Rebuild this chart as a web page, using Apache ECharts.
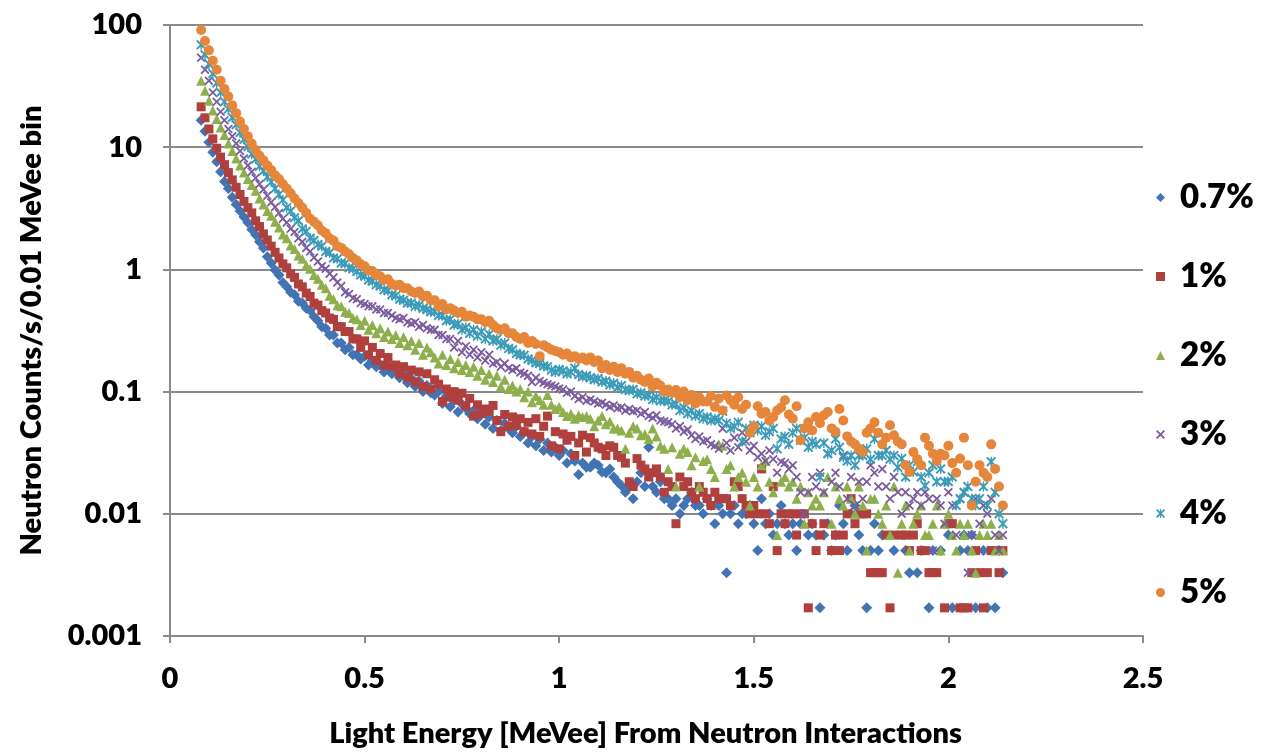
<!DOCTYPE html>
<html>
<head>
<meta charset="utf-8">
<title>Neutron light output spectra</title>
<script src="https://cdn.jsdelivr.net/npm/echarts@6/dist/echarts.min.js"></script>
<style>
  html, body { margin: 0; padding: 0; background: #ffffff; }
  #chart { width: 1261px; height: 753px; }
</style>
</head>
<body>
<div id="chart"></div>
<script>
//  Light energy bins [MeVee], 0.01 MeVee wide
const energy = [
  0.08, 0.09, 0.10, 0.11, 0.12, 0.13, 0.14, 0.15, 0.16, 0.17,
  0.18, 0.19, 0.20, 0.21, 0.22, 0.23, 0.24, 0.25, 0.26, 0.27,
  0.28, 0.29, 0.30, 0.31, 0.32, 0.33, 0.34, 0.35, 0.36, 0.37,
  0.38, 0.39, 0.40, 0.41, 0.42, 0.43, 0.44, 0.45, 0.46, 0.47,
  0.48, 0.49, 0.50, 0.51, 0.52, 0.53, 0.54, 0.55, 0.56, 0.57,
  0.58, 0.59, 0.60, 0.61, 0.62, 0.63, 0.64, 0.65, 0.66, 0.67,
  0.68, 0.69, 0.70, 0.71, 0.72, 0.73, 0.74, 0.75, 0.76, 0.77,
  0.78, 0.79, 0.80, 0.81, 0.82, 0.83, 0.84, 0.85, 0.86, 0.87,
  0.88, 0.89, 0.90, 0.91, 0.92, 0.93, 0.94, 0.95, 0.96, 0.97,
  0.98, 0.99, 1.00, 1.01, 1.02, 1.03, 1.04, 1.05, 1.06, 1.07,
  1.08, 1.09, 1.10, 1.11, 1.12, 1.13, 1.14, 1.15, 1.16, 1.17,
  1.18, 1.19, 1.20, 1.21, 1.22, 1.23, 1.24, 1.25, 1.26, 1.27,
  1.28, 1.29, 1.30, 1.31, 1.32, 1.33, 1.34, 1.35, 1.36, 1.37,
  1.38, 1.39, 1.40, 1.41, 1.42, 1.43, 1.44, 1.45, 1.46, 1.47,
  1.48, 1.49, 1.50, 1.51, 1.52, 1.53, 1.54, 1.55, 1.56, 1.57,
  1.58, 1.59, 1.60, 1.61, 1.62, 1.63, 1.64, 1.65, 1.66, 1.67,
  1.68, 1.69, 1.70, 1.71, 1.72, 1.73, 1.74, 1.75, 1.76, 1.77,
  1.78, 1.79, 1.80, 1.81, 1.82, 1.83, 1.84, 1.85, 1.86, 1.87,
  1.88, 1.89, 1.90, 1.91, 1.92, 1.93, 1.94, 1.95, 1.96, 1.97,
  1.98, 1.99, 2.00, 2.01, 2.02, 2.03, 2.04, 2.05, 2.06, 2.07,
  2.08, 2.09, 2.10, 2.11, 2.12, 2.13, 2.14
];

const seriesNames = ['0.7%', '1%', '2%', '3%', '4%', '5%'];
const yTickLabels = ['0.001', '0.01', '0.1', '1', '10', '100'];

//  Neutron counts/s per bin, null = no counts in that bin
const rate07 = [
  16.6, 13.5, 11, 9.1, 7.6, 6.3, 5.25, 4.6, 3.9, 3.4,
  3.0, 2.68, 2.42, 2.12, 1.92, 1.68, 1.5, 1.27, 1.13, 0.99,
  0.9, 0.78, 0.72, 0.65, 0.62, 0.55, 0.53, 0.48, 0.46, 0.41,
  0.38, 0.34, 0.33, 0.29, 0.29, 0.25, 0.25, 0.22, 0.23, 0.2,
  0.2, 0.185, 0.195, 0.165, 0.18, 0.16, 0.165, 0.145, 0.158, 0.14,
  0.145, 0.13, 0.14, 0.118, 0.128, 0.11, 0.122, 0.1, 0.112, 0.098,
  0.094, 0.1, 0.08, 0.092, 0.075, 0.085, 0.068, 0.079, 0.073, 0.066,
  0.07, 0.06, 0.066, 0.054, 0.062, 0.05, 0.058, 0.048, 0.055, 0.05,
  0.046, 0.052, 0.043, 0.047, 0.038, 0.043, 0.036, 0.041, 0.033, 0.038,
  0.032, 0.035, 0.03, 0.033, 0.026, 0.031, 0.027, 0.021, 0.026, 0.024,
  0.024, 0.026, 0.025, 0.022, 0.0217, 0.0233, 0.02, 0.0183, 0.017, 0.015,
  0.0167, 0.0133, 0.0183, 0.0217, 0.0167, 0.035, 0.0167, 0.015, 0.0183, 0.0133,
  0.0133, 0.0117, 0.0133, 0.01, 0.0117, 0.0133, 0.015, 0.0117, 0.0117, 0.01,
  0.0133, 0.0117, 0.0083, 0.0117, 0.01, 0.0033, 0.01, 0.0117, 0.0083, 0.01,
  0.01, 0.0117, 0.0083, 0.005, 0.0133, 0.0083, 0.01, 0.0067, 0.0083, 0.0117,
  0.0083, 0.0067, 0.0083, 0.005, 0.0083, null, 0.0067, 0.0083, 0.0067, 0.0017,
  0.0067, 0.0083, 0.005, 0.0067, 0.0117, 0.0083, 0.005, 0.01, 0.0117, 0.0067,
  0.005, 0.0017, 0.005, 0.0083, 0.005, 0.0067, null, null, 0.005, null,
  null, 0.005, 0.0033, null, 0.0033, 0.005, null, 0.0017, 0.005, null,
  0.005, null, 0.0067, 0.0017, null, 0.005, 0.0067, 0.005, 0.0067, 0.0017,
  null, 0.005, 0.0017, null, 0.0017, 0.005, 0.0033
];

const rate1 = [
  21.4, 17.4, 14.1, 11.7, 9.8, 8.3, 7.2, 6.2, 5.4, 4.7,
  4.1, 3.6, 3.2, 2.9, 2.5, 2.24, 1.95, 1.74, 1.55, 1.38,
  1.24, 1.11, 1.03, 0.92, 0.86, 0.76, 0.72, 0.64, 0.6, 0.53,
  0.51, 0.46, 0.44, 0.4, 0.39, 0.34, 0.34, 0.31, 0.31, 0.27,
  0.27, 0.23, 0.26, 0.2, 0.23, 0.18, 0.205, 0.165, 0.19, 0.16,
  0.165, 0.14, 0.16, 0.13, 0.15, 0.12, 0.145, 0.11, 0.14, 0.105,
  0.125, 0.115, 0.083, 0.105, 0.09, 0.1, 0.085, 0.097, 0.076, 0.088,
  0.063, 0.078, 0.066, 0.072, 0.069, 0.077, 0.058, 0.047, 0.065, 0.052,
  0.062, 0.053, 0.06, 0.047, 0.056, 0.045, 0.06, 0.043, 0.052, 0.063,
  0.036, 0.047, 0.034, 0.045, 0.04, 0.043, 0.03, 0.038, 0.044, 0.032,
  0.042, 0.038, 0.035, 0.034, 0.03, 0.036, 0.035, 0.03, 0.029, 0.026,
  0.0183, 0.0167, 0.0283, 0.025, 0.0233, 0.02, 0.0217, 0.0233, 0.02, 0.015,
  0.0183, 0.0167, 0.0083, 0.02, 0.0167, 0.0183, 0.015, 0.0133, 0.0167, 0.015,
  0.0133, 0.0117, 0.015, 0.0133, 0.0133, 0.0133, 0.0117, 0.0183, 0.0167, 0.0133,
  0.0117, 0.01, 0.0117, 0.01, 0.0233, 0.01, 0.0083, 0.0167, 0.005, 0.01,
  0.0083, 0.01, 0.01, 0.0067, 0.01, 0.01, 0.0017, 0.0083, 0.005, 0.0067,
  0.0083, null, 0.005, 0.0067, 0.005, 0.0067, 0.01, 0.0133, 0.0083, 0.01,
  0.01, 0.01, 0.0033, 0.0033, 0.0033, 0.0033, 0.0067, 0.0017, 0.0067, null,
  0.0067, 0.0067, 0.005, 0.0067, 0.0083, 0.005, 0.005, 0.0033, 0.0033, 0.0033,
  null, 0.0017, 0.0083, 0.0083, null, 0.0017, 0.0017, 0.0017, 0.0033, 0.005,
  0.0033, 0.0017, 0.0033, 0.005, 0.005, 0.0033, 0.005
];

const rate2 = [
  35, 29, 24, 20, 17, 14.5, 12.6, 10.7, 9.3, 8.1,
  7.1, 6.2, 5.5, 4.9, 4.4, 3.8, 3.4, 3.0, 2.75, 2.45,
  2.2, 1.93, 1.8, 1.57, 1.47, 1.3, 1.22, 1.08, 1.01, 0.9,
  0.84, 0.75, 0.7, 0.61, 0.57, 0.51, 0.5, 0.45, 0.44, 0.4,
  0.39, 0.35, 0.38, 0.32, 0.35, 0.3, 0.33, 0.28, 0.31, 0.27,
  0.29, 0.25, 0.28, 0.24, 0.26, 0.22, 0.25, 0.2, 0.23, 0.21,
  0.19, 0.17, 0.2, 0.165, 0.185, 0.155, 0.175, 0.15, 0.165, 0.145,
  0.16, 0.135, 0.15, 0.125, 0.14, 0.12, 0.135, 0.11, 0.125, 0.105,
  0.112, 0.1, 0.105, 0.09, 0.1, 0.082, 0.092, 0.085, 0.078, 0.094,
  0.078, 0.072, 0.075, 0.068, 0.063, 0.066, 0.06, 0.064, 0.062, 0.063,
  0.06, 0.052, 0.058, 0.063, 0.054, 0.057, 0.05, 0.05, 0.048, 0.034,
  0.046, 0.052, 0.05, 0.044, 0.045, 0.041, 0.05, 0.043, 0.036, 0.034,
  0.0233, 0.035, 0.0167, 0.031, 0.034, 0.032, 0.025, 0.029, 0.0167, 0.027,
  0.028, 0.0233, 0.02, 0.037, 0.036, 0.0233, 0.025, 0.0167, 0.02, 0.0217,
  0.0183, 0.0117, 0.02, 0.0167, 0.025, 0.027, 0.0183, 0.015, 0.0067, 0.0183,
  0.02, 0.0167, 0.0183, 0.0133, 0.0167, 0.0083, 0.015, 0.0117, 0.0133, 0.0117,
  0.015, 0.02, 0.0083, 0.0167, 0.0133, 0.0117, 0.0167, 0.0133, 0.01, 0.0167,
  0.0117, 0.005, 0.0133, 0.0133, 0.01, 0.0083, 0.0117, 0.0067, 0.0167, 0.0033,
  0.0083, 0.0117, 0.005, 0.0083, 0.01, 0.0117, 0.0067, 0.0067, 0.0083, 0.0117,
  0.005, 0.0083, 0.01, 0.0067, 0.005, 0.0083, 0.0067, 0.0083, 0.005, 0.0033,
  0.0067, 0.0083, 0.0067, 0.0083, 0.005, 0.0067, 0.005
];

const rate3 = [
  54, 43, 35, 28, 23.5, 19.5, 16.6, 14.1, 12.3, 10.7,
  9.3, 8.1, 7.1, 6.3, 5.6, 5.0, 4.5, 4.0, 3.55, 3.24,
  2.9, 2.6, 2.42, 2.15, 2.02, 1.8, 1.68, 1.5, 1.4, 1.25,
  1.16, 1.06, 1.01, 0.92, 0.86, 0.78, 0.73, 0.65, 0.63, 0.58,
  0.57, 0.53, 0.52, 0.5, 0.5, 0.47, 0.47, 0.44, 0.44, 0.42,
  0.4, 0.39, 0.4, 0.37, 0.36, 0.37, 0.34, 0.35, 0.33, 0.32,
  0.32, 0.29, 0.29, 0.27, 0.27, 0.23, 0.26, 0.21, 0.235, 0.2,
  0.22, 0.19, 0.21, 0.18, 0.2, 0.17, 0.175, 0.16, 0.17, 0.155,
  0.15, 0.155, 0.143, 0.14, 0.135, 0.12, 0.13, 0.122, 0.118, 0.115,
  0.112, 0.11, 0.106, 0.104, 0.098, 0.1, 0.092, 0.087, 0.09, 0.084,
  0.086, 0.083, 0.08, 0.081, 0.078, 0.075, 0.077, 0.073, 0.074, 0.07,
  0.072, 0.069, 0.07, 0.066, 0.068, 0.063, 0.061, 0.064, 0.058, 0.057,
  0.056, 0.054, 0.05, 0.052, 0.047, 0.049, 0.044, 0.041, 0.043, 0.039,
  0.04, 0.037, 0.036, 0.034, 0.05, 0.038, 0.033, 0.042, 0.035, 0.046,
  0.039, 0.033, 0.036, 0.029, 0.031, 0.027, 0.033, 0.028, 0.0217, 0.0267,
  0.026, 0.0233, 0.025, 0.02, 0.015, 0.01, 0.015, 0.02, 0.0167, 0.0217,
  0.015, 0.031, 0.0183, 0.0217, 0.0167, 0.03, 0.0133, 0.02, 0.0117, 0.0183,
  0.0133, 0.0183, 0.025, 0.0217, 0.0167, 0.0233, 0.0167, 0.0133, 0.02, 0.015,
  0.01, 0.015, 0.0117, 0.0133, 0.015, 0.0117, 0.015, 0.0133, 0.005, 0.0133,
  0.0117, 0.0083, 0.015, 0.0117, 0.0067, 0.0133, 0.015, 0.0033, 0.0067, 0.0133,
  0.0083, 0.0117, 0.01, 0.0133, 0.0067, 0.005, 0.0067
];

const rate4 = [
  69, 57, 48, 40, 33.5, 28, 23.5, 20.5, 17.5, 15.3,
  13.2, 11.6, 10.1, 8.8, 8.0, 7.0, 6.4, 5.7, 5.2, 4.6,
  4.1, 3.7, 3.2, 3.0, 2.65, 2.5, 2.15, 2.05, 1.8, 1.72,
  1.6, 1.55, 1.4, 1.37, 1.24, 1.22, 1.13, 1.12, 1.03, 1.01,
  0.96, 0.9, 0.88, 0.82, 0.8, 0.75, 0.73, 0.68, 0.67, 0.62,
  0.61, 0.57, 0.56, 0.53, 0.53, 0.5, 0.51, 0.48, 0.47, 0.45,
  0.45, 0.42, 0.42, 0.38, 0.39, 0.35, 0.36, 0.32, 0.335, 0.3,
  0.32, 0.285, 0.31, 0.27, 0.295, 0.26, 0.27, 0.24, 0.25, 0.225,
  0.22, 0.205, 0.2, 0.198, 0.185, 0.18, 0.172, 0.17, 0.162, 0.16,
  0.15, 0.145, 0.152, 0.148, 0.14, 0.145, 0.155, 0.138, 0.132, 0.135,
  0.13, 0.125, 0.128, 0.12, 0.122, 0.114, 0.117, 0.108, 0.112, 0.104,
  0.102, 0.104, 0.096, 0.098, 0.092, 0.094, 0.086, 0.09, 0.084, 0.085,
  0.083, 0.078, 0.079, 0.07, 0.074, 0.066, 0.07, 0.063, 0.066, 0.06,
  0.062, 0.058, 0.06, 0.058, 0.069, 0.055, 0.05, 0.052, 0.056, 0.039,
  0.05, 0.046, 0.053, 0.048, 0.052, 0.044, 0.047, 0.05, 0.034, 0.041,
  0.043, 0.037, 0.046, 0.05, 0.04, 0.042, 0.035, 0.039, 0.037, 0.02,
  0.038, 0.031, 0.033, 0.041, 0.035, 0.029, 0.027, 0.03, 0.025, 0.03,
  0.03, 0.034, 0.028, 0.041, 0.03, 0.03, 0.033, 0.028, 0.03, 0.024,
  0.0283, 0.02, 0.025, 0.022, 0.0267, 0.02, 0.017, 0.0217, 0.025, 0.0183,
  0.0233, 0.0183, 0.0183, 0.02, 0.0117, 0.0133, 0.015, 0.0167, 0.0133, 0.0117,
  0.0133, 0.0167, 0.0117, 0.0267, 0.015, 0.01, 0.0083
];

const rate5 = [
  91, 74, 62, 51, 43, 35, 30, 26, 22, 19,
  16.2, 14.1, 12.3, 10.7, 9.5, 8.5, 7.8, 7.1, 6.5, 5.9,
  5.5, 5.0, 4.6, 4.2, 3.8, 3.5, 3.2, 2.9, 2.6, 2.45,
  2.3, 2.08, 1.98, 1.8, 1.72, 1.55, 1.5, 1.4, 1.33, 1.24,
  1.18, 1.1, 1.06, 0.98, 0.97, 0.9, 0.88, 0.82, 0.83, 0.76,
  0.74, 0.75, 0.7, 0.7, 0.66, 0.64, 0.66, 0.6, 0.61, 0.56,
  0.56, 0.5, 0.52, 0.47, 0.48, 0.46, 0.44, 0.45, 0.41, 0.42,
  0.41, 0.39, 0.39, 0.37, 0.38, 0.35, 0.33, 0.32, 0.33, 0.3,
  0.3, 0.28, 0.27, 0.28, 0.25, 0.26, 0.245, 0.195, 0.24, 0.23,
  0.22, 0.215, 0.21, 0.2, 0.205, 0.19, 0.195, 0.185, 0.19, 0.18,
  0.19, 0.175, 0.18, 0.155, 0.165, 0.15, 0.16, 0.145, 0.155, 0.14,
  0.145, 0.13, 0.135, 0.125, 0.12, 0.128, 0.11, 0.118, 0.112, 0.1,
  0.104, 0.098, 0.103, 0.09, 0.1, 0.085, 0.094, 0.08, 0.09, 0.083,
  0.083, 0.092, 0.075, 0.088, 0.07, 0.093, 0.085, 0.078, 0.09, 0.072,
  0.078, 0.046, 0.052, 0.076, 0.066, 0.068, 0.058, 0.062, 0.07, 0.074,
  0.085, 0.065, 0.06, 0.076, 0.04, 0.05, 0.056, 0.048, 0.062, 0.055,
  0.064, 0.068, 0.05, 0.047, 0.072, 0.058, 0.043, 0.039, 0.037, 0.034,
  0.032, 0.046, 0.05, 0.056, 0.046, 0.037, 0.042, 0.053, 0.044, 0.039,
  0.037, 0.025, 0.022, 0.032, 0.028, 0.025, 0.042, 0.036, 0.031, 0.027,
  0.031, 0.03, 0.036, 0.026, 0.0217, 0.0283, 0.042, 0.025, 0.0117, 0.0183,
  0.025, 0.0217, 0.02, 0.037, 0.0233, 0.0167, 0.0117
];

const allRates = [rate07, rate1, rate2, rate3, rate4, rate5];

const colors = ['#4274B3', '#B0403D', '#8EAF4C', '#7A5B9E', '#3C9BB8', '#E6863A'];

//  Excel-like marker shapes: diamond, square, triangle, x, asterisk, circle
const xMark = 'path://M0,1.4L1.4,0L5,3.6L8.6,0L10,1.4L6.4,5L10,8.6L8.6,10L5,6.4L1.4,10L0,8.6L3.6,5Z';
const starMark = 'path://M0,1.4L1.4,0L5,3.6L8.6,0L10,1.4L6.4,5L10,8.6L8.6,10L5,6.4L1.4,10L0,8.6L3.6,5Z' +
  'M4.3,0L5.7,0L5.7,10L4.3,10Z';
const symbols = ['diamond', 'rect', 'triangle', xMark, starMark, 'circle'];
const symbolSizes = [11, 9, 10, 9, 10, 10];

const font = 'Lato, "Open Sans", sans-serif';
const gray = '#8a8a8a';

function toPoints(values) {
  let points = [];
  values.forEach(function (v, i) {
    if (v !== null) points.push([energy[i], v]);
  });
  return points;
}

let chart = echarts.init(document.getElementById('chart'));

let option = {
  animation: false,
  backgroundColor: '#ffffff',
  grid: { left: 170, right: 118, top: 25, bottom: 115, containLabel: false },
  legend: {
    data: seriesNames,
    orient: 'vertical',
    left: 1151,
    top: 176,
    itemWidth: 9,
    itemHeight: 9,
    itemGap: 46,
    textStyle: {
      fontFamily: font, fontWeight: 800, fontSize: 33, color: '#000',
      lineHeight: 32, padding: [0, 0, 0, 10]
    }
  },
  xAxis: {
    type: 'value',
    min: 0,
    max: 2.5,
    interval: 0.5,
    name: 'Light Energy [MeVee] From Neutron Interactions',
    nameLocation: 'middle',
    nameGap: 83,
    nameTextStyle: { fontFamily: font, fontWeight: 800, fontSize: 29, color: '#000', padding: [0, 22, 0, 0] },
    axisLine: { show: true, lineStyle: { color: gray, width: 2 } },
    axisTick: { show: true, inside: false, length: 7, lineStyle: { color: gray, width: 2 } },
    splitLine: { show: false },
    axisLabel: {
      margin: 28,
      fontFamily: font, fontWeight: 800, fontSize: 29, color: '#000',
      formatter: function (v) { return String(v); }
    }
  },
  yAxis: {
    type: 'log',
    logBase: 10,
    min: 0.001,
    max: 100,
    name: 'Neutron Counts/s/0.01 MeVee bin',
    nameLocation: 'middle',
    nameGap: 124,
    nameTextStyle: { fontFamily: font, fontWeight: 800, fontSize: 29, color: '#000' },
    axisLine: { show: true, lineStyle: { color: gray, width: 2 } },
    axisTick: { show: true, inside: false, length: 7, lineStyle: { color: gray, width: 2 } },
    splitLine: { show: true, lineStyle: { color: gray, width: 2 } },
    axisLabel: {
      margin: 28,
      fontFamily: font, fontWeight: 800, fontSize: 29, color: '#000',
      formatter: function (v) { return yTickLabels[Math.round(Math.log10(v)) + 3]; }
    }
  },
  series: seriesNames.map(function (name, k) {
    return {
      name: name,
      type: 'scatter',
      symbol: symbols[k],
      symbolSize: symbolSizes[k],
      itemStyle: { color: colors[k], opacity: 1 },
      data: toPoints(allRates[k])
    };
  })
};

chart.setOption(option);
</script>
</body>
</html>
